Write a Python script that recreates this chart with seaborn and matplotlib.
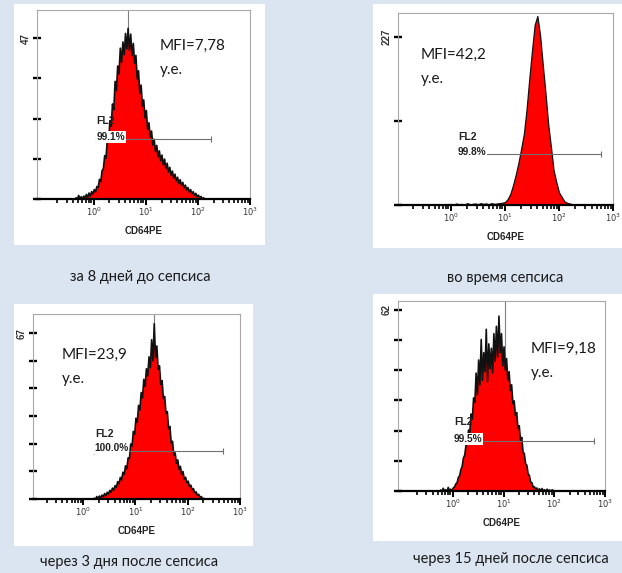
import numpy as np
import matplotlib
matplotlib.use("Agg")
import matplotlib.pyplot as plt
import seaborn as sns
from matplotlib.patches import Rectangle

# CD64PE histograms: counts per channel group on a log10 axis
p1_start, p1_step = -0.35, 0.025
p1_counts = [0.5, 0.0, 1.2, 0.3, 0.8, 0.2, 1.0, 0.4, 1.5, 0.6, 1.9, 1.0, 2.3, 1.6,
             2.9, 2.2, 3.8, 3.5, 5.9, 5.2, 8.4, 9.0, 12.8, 12.1, 17.5, 16.8, 23.0,
             21.4, 27.9, 26.2, 34.5, 31.8, 39.0, 36.7, 44.2, 40.1, 46.0, 42.3, 48.5,
             44.0, 50.0, 43.5, 48.3, 42.0, 45.6, 39.8, 42.1, 35.2, 37.6, 31.0, 33.4,
             27.3, 29.1, 23.8, 26.0, 20.5, 22.4, 18.2, 20.0, 15.9, 17.6, 14.0, 15.8,
             12.5, 14.2, 11.3, 13.0, 10.1, 11.8, 9.0, 10.6, 8.0, 9.4, 7.1, 8.3, 6.2,
             7.4, 5.4, 6.5, 4.7, 5.8, 4.1, 5.0, 3.4, 4.2, 2.8, 3.5, 2.2, 2.9, 1.7, 2.3,
             1.2, 1.8, 0.8, 1.3, 0.5, 0.9, 0.2, 0.5, 0.0]

p2_start, p2_step = 0.0, 0.05
p2_counts = [1.5, 0.5, 2.0, 1.0, 1.5, 0.5, 2.5, 1.0, 1.5, 2.0, 1.0, 2.5, 1.5, 2.0, 1.0,
             2.5, 1.5, 2.0, 2.5, 3.0,
             4, 8, 15, 27, 41, 57, 76, 96, 129, 170, 208, 243, 255, 229, 189, 151, 109,
             79, 47, 31, 17, 11, 5, 3, 2, 1, 0.5]

p3_start, p3_step = 0.2, 0.025
p3_counts = [0.5, 0.0, 1.2, 0.4, 1.4, 0.7, 1.8, 1.1, 2.4, 1.6, 2.9, 2.2, 3.7, 2.9,
             4.6, 3.8, 5.6, 4.9, 7.2, 6.3, 8.9, 7.9, 11.0, 10.1, 13.6, 12.4, 16.8,
             16.5, 22.4, 21.6, 27.5, 26.3, 32.8, 31.2, 38.0, 36.1, 43.2, 41.0, 48.5,
             45.6, 52.8, 49.9, 57.6, 53.2, 64.5, 56.0, 71.0, 57.2, 62.0, 52.5, 54.0,
             46.5, 48.0, 40.8, 41.6, 34.9, 35.5, 28.6, 29.5, 22.8, 23.5, 17.9, 18.8,
             14.6, 16.0, 12.2, 13.4, 10.1, 11.3, 8.2, 9.0, 6.7, 7.4, 5.2, 5.8, 3.9, 4.4,
             2.7, 3.1, 1.7, 2.1, 0.9, 1.2, 0.3, 0.5]

p4_start, p4_step = -0.25, 0.025
p4_counts = [0.5, 0.0, 1.1, 0.3, 0.6, 0.0, 1.4, 0.4, 0.8, 0.2, 1.2, 1.6, 2.6, 3.0,
             4.8, 5.4, 7.5, 8.6, 11.5, 12.4, 15.8, 16.5, 21.0, 20.2, 26.5, 24.8, 32.0,
             30.5, 40.5, 33.0, 45.0, 36.5, 52.0, 38.0, 47.5, 41.0, 55.5, 37.5, 50.5,
             42.0, 49.0, 40.5, 54.0, 44.5, 56.5, 46.0, 60.0, 47.5, 54.0, 43.0, 49.5,
             41.5, 45.5, 38.0, 41.0, 34.5, 36.5, 30.0, 31.0, 26.0, 27.0, 21.5, 22.5,
             17.5, 18.5, 13.5, 13.0, 9.5, 9.0, 6.0, 5.5, 3.2, 3.0, 1.5, 1.6, 0.8, 1.2,
             0.4, 0.9, 0.3, 1.0, 0.2, 0.6, 0.0, 0.8, 0.2, 0.5, 0.0, 0.6, 0.1, 0.3, 0.0]

starts = [p1_start, p2_start, p3_start, p4_start]
steps = [p1_step, p2_step, p3_step, p4_step]
counts = [p1_counts, p2_counts, p3_counts, p4_counts]

y_max_labels = [47, 227, 67, 62]
y_tick_steps = [4, 2, 6, 6]
mfi_values = ["MFI=7,78", "MFI=42,2", "MFI=23,9", "MFI=9,18"]
fl2_pcts = ["99.1%", "99.8%", "100.0%", "99.5%"]
gate_lo = [0.04, 0.13, 0.21, 0.02]
gate_hi = [2.26, 2.78, 2.68, 2.78]
gate_level = [17.5, 69, 19.4, 17.1]
median_line = [0.65, None, 1.36, 1.03]
captions = ["за 8 дней до сепсиса", "во время сепсиса",
            "через 3 дня после сепсиса", "через 15 дней после сепсиса"]

# layout in pixels (left, top, right, bottom)
W, H = 622, 573
layout = [
    dict(box=(14, 4, 265, 245), ax=(37, 10, 250, 199), xlim=(-1.09, 3.0), ytop=55.2,
         mfi=(160, 50), fl2=(96, 121), pct=(97, 137), cap=(140, 281), edge=1.2),
    dict(box=(373, 4, 622, 248), ax=(398, 13, 613, 205), xlim=(-0.98, 3.0), ytop=259,
         mfi=(421, 59), fl2=(458, 137), pct=(458, 152), cap=(505, 282), edge=0.9),
    dict(box=(14, 304, 253, 546), ax=(33, 314, 240, 499), xlim=(-0.96, 3.0), ytop=74.7,
         mfi=(62, 359), fl2=(95, 434), pct=(94, 448), cap=(129, 566), edge=1.2),
    dict(box=(373, 294, 622, 541), ax=(398, 301, 605, 491), xlim=(-1.08, 3.0), ytop=65,
         mfi=(531, 353), fl2=(454, 422), pct=(454, 439), cap=(511, 563), edge=1.2),
]

sns.set_theme(style="white")
plt.rcParams['font.family'] = ['Lato', 'Noto Sans', 'DejaVu Sans']
small_font = ['Liberation Sans', 'DejaVu Sans']

fig = plt.figure(figsize=(W / 100, H / 100), dpi=100)
fig.patch.set_facecolor('#dbe4f1')


def fx(x):
    return x / W


def fy(y):
    return 1 - y / H


minor_ticks = [k + np.log10(m) for k in range(-1, 3) for m in range(2, 10)]

for i, lay in enumerate(layout):
    bl, bt, br, bb = lay['box']
    fig.patches.append(Rectangle((fx(bl), fy(bb)), (br - bl) / W, (bb - bt) / H,
                                 transform=fig.transFigure, facecolor='white',
                                 edgecolor='none', zorder=-1))
    al, at, ar, ab = lay['ax']
    ax = fig.add_axes([fx(al), fy(ab), (ar - al) / W, (ab - at) / H])
    ax.set_facecolor('white')

    n = len(counts[i])
    step = steps[i]
    centers = starts[i] + step * np.arange(n)
    edges = (starts[i] - step / 2 + step * np.arange(n + 1)).tolist()

    if median_line[i] is not None:
        ax.axvline(median_line[i], color='#7f7f7f', lw=0.8, zorder=0)

    sns.histplot(x=centers, weights=counts[i], bins=edges, element='poly', fill=True,
                 facecolor='#ff0000', edgecolor='#111111', linewidth=lay['edge'],
                 ax=ax, zorder=2)

    # FL2 gate marker
    ax.plot([gate_lo[i], gate_hi[i]], [gate_level[i], gate_level[i]], color='#6f6f6f',
            lw=0.8, zorder=3)
    ax.plot([gate_lo[i], gate_hi[i]], [gate_level[i], gate_level[i]], ls='none',
            marker='|', ms=4, mew=0.8, color='#6f6f6f', zorder=3)

    ax.set_xlim(*lay['xlim'])
    ax.set_ylim(0, lay['ytop'])

    ax.set_xticks([0, 1, 2, 3])
    ax.set_xticklabels(['$10^{0}$', '$10^{1}$', '$10^{2}$', '$10^{3}$'],
                       family=small_font, color='#333333')
    ax.set_xticks(minor_ticks, minor=True)
    ax.tick_params(axis='x', which='major', direction='out', length=4.5, width=1.4,
                   color='black', labelsize=6, pad=0.5, bottom=True)
    ax.tick_params(axis='x', which='minor', direction='out', length=3, width=1.2,
                   color='black', bottom=True)

    yt = np.linspace(0, y_max_labels[i], y_tick_steps[i] + 1)
    ax.set_yticks(yt)
    ax.set_yticklabels([''] * y_tick_steps[i] + [str(y_max_labels[i])],
                       family=small_font, fontweight='bold', color='#333333',
                       rotation=90, va='center')
    ax.tick_params(axis='y', direction='inout', length=6, width=1.7, color='black',
                   labelsize=7, pad=1.5, left=True)

    for s in ['top', 'right', 'left']:
        ax.spines[s].set_color('#a8a8a8')
        ax.spines[s].set_linewidth(0.8)
    ax.spines['bottom'].set_color('black')
    ax.spines['bottom'].set_linewidth(1.6)

    ax.set_ylabel('')
    ax.set_xlabel('CD64PE', fontsize=7, fontweight='bold', family=small_font,
                  color='#222222')
    ax.xaxis.set_label_coords(0.5, -27 / (ab - at))

    # annotations
    mx, my = lay['mfi']
    fig.text(fx(mx), fy(my), mfi_values[i], fontsize=11, color='#1a1a1a',
             va='baseline', ha='left')
    fig.text(fx(mx), fy(my + 24), 'у.е.', fontsize=11, color='#1a1a1a',
             va='baseline', ha='left')

    lx, ly = lay['fl2']
    fig.text(fx(lx), fy(ly), 'FL2', fontsize=7.5, fontweight='bold', family=small_font,
             color='#222222', va='center', ha='left', zorder=5)
    px, py = lay['pct']
    fig.text(fx(px), fy(py), fl2_pcts[i], fontsize=7.3, fontweight='bold',
             family=small_font, color='#222222', va='center', ha='left', zorder=5,
             bbox=dict(facecolor='white', edgecolor='none', pad=0.5))

    cx, cy = lay['cap']
    fig.text(fx(cx), fy(cy), captions[i], fontsize=10.5, color='#1a1a1a',
             va='baseline', ha='center')

fig.savefig('out.png', dpi=100, facecolor=fig.get_facecolor())
